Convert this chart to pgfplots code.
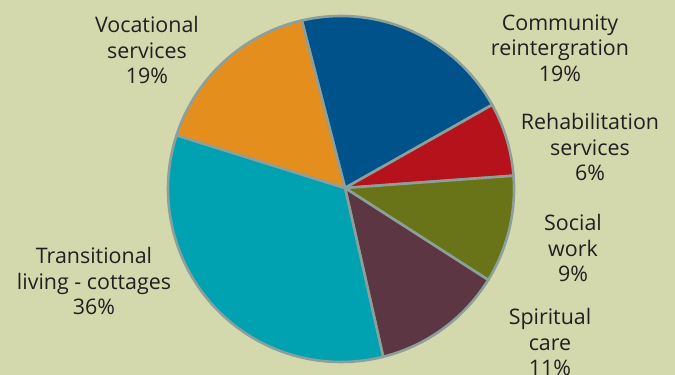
\documentclass[border=0pt]{standalone}
\usepackage{pgfplots}
\pgfplotsset{compat=1.18}
\usepackage{fontspec}
\setmainfont{Open Sans}
\definecolor{bgc}{HTML}{D3D8AD}
\definecolor{edge}{HTML}{8C9F9B}
\definecolor{cBlue}{HTML}{00538A}
\definecolor{cRed}{HTML}{B5121B}
\definecolor{cOlive}{HTML}{687417}
\definecolor{cMaroon}{HTML}{5C3642}
\definecolor{cTeal}{HTML}{00A1B1}
\definecolor{cOrange}{HTML}{E48F1D}
\definecolor{txt}{HTML}{231F20}
\begin{document}
\begin{tikzpicture}
\clip (0,0) rectangle (675bp,375bp);
\fill[bgc] (0,0) rectangle (675bp,375bp);
\begin{axis}[
  at={(0,0)}, anchor=south west,
  scale only axis, width=675bp, height=375bp,
  xmin=0, xmax=675, ymin=0, ymax=375,
  hide axis, clip=false,
]
% slices: angle ranges (degrees) from the shares
% Community 20.6%, Rehabilitation 6.9%, Social 10.0%, Spiritual 12.3%, Transitional 33.9%, Vocational 16.3%
\addplot[fill=cBlue, draw=edge, line width=2.6bp, line join=round, domain=29.1:103.1, samples=60, variable=\t]
  ({341+173*cos(\t)},{186+173*sin(\t)}) -- (axis cs:345,187) -- cycle;
\addplot[fill=cRed, draw=edge, line width=2.6bp, line join=round, domain=4.4:29.1, samples=30, variable=\t]
  ({341+173*cos(\t)},{186+173*sin(\t)}) -- (axis cs:345,187) -- cycle;
\addplot[fill=cOlive, draw=edge, line width=2.6bp, line join=round, domain=-31.7:4.4, samples=40, variable=\t]
  ({341+173*cos(\t)},{186+173*sin(\t)}) -- (axis cs:345,187) -- cycle;
\addplot[fill=cMaroon, draw=edge, line width=2.6bp, line join=round, domain=-75.9:-31.7, samples=40, variable=\t]
  ({341+173*cos(\t)},{186+173*sin(\t)}) -- (axis cs:345,187) -- cycle;
\addplot[fill=cTeal, draw=edge, line width=2.6bp, line join=round, domain=161.9:284.1, samples=90, variable=\t]
  ({341+173*cos(\t)},{186+173*sin(\t)}) -- (axis cs:345,187) -- cycle;
\addplot[fill=cOrange, draw=edge, line width=2.6bp, line join=round, domain=103.1:161.9, samples=50, variable=\t]
  ({341+173*cos(\t)},{186+173*sin(\t)}) -- (axis cs:345,187) -- cycle;

\begin{scope}[every node/.style={align=center, text=txt, font=\fontsize{21.5}{25.5}\selectfont, inner sep=0pt}]
\node at (axis cs:147,325) {Vocational\\services\\19\%};
\node at (axis cs:560,327) {Community\\reintergration\\19\%};
\node at (axis cs:590,228) {Rehabilitation\\services\\6\%};
\node at (axis cs:573,127) {Social\\work\\9\%};
\node at (axis cs:550,33) {Spiritual\\care\\11\%};
\node at (axis cs:94,94) {Transitional\\living - cottages\\36\%};
\end{scope}
\end{axis}
\end{tikzpicture}
\end{document}
